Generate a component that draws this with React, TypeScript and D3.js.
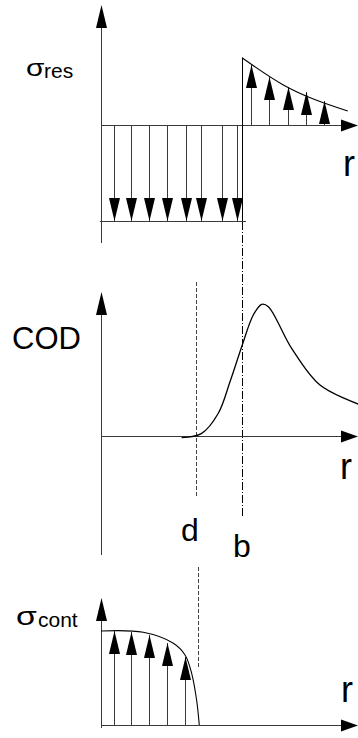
import React from "react";
import * as d3 from "d3";

// Radial positions are normalised by b (the edge of the residual-stress zone).
const bR = 1;
const dR = 0.68;

// Residual stress: uniform compression inside b, decaying tension outside.
const resDownR = [0.092, 0.213, 0.34, 0.468, 0.603, 0.709, 0.858, 0.965];
const resDownValue = [-1, -1, -1, -1, -1, -1, -1, -1];
const resUpR = [1.064, 1.191, 1.326, 1.454, 1.582];
const resUpValue = [0.625, 0.5, 0.396, 0.344, 0.25];
const resCurveR = [1.0, 1.29, 1.75];
const resCurveValue = [0.7, 0.42, 0.146];

// Crack opening displacement profile.
const codR = [0.572, 0.714, 0.832, 0.915, 1.002, 1.08, 1.14, 1.187, 1.352, 1.553, 1.825];
const codValue = [-0.013, 0.02, 0.172, 0.411, 0.689, 0.917, 0.998, 0.98, 0.664, 0.386, 0.242];

// Contact stress over the closed part of the crack.
const contR = [0.0, 0.3, 0.513, 0.596, 0.643, 0.678, 0.697];
const contValue = [1.0, 0.986, 0.869, 0.745, 0.55, 0.266, 0.0];
const contArrowR = [0.092, 0.213, 0.34, 0.468, 0.596];
const contArrowValue = [1.0, 0.989, 0.957, 0.872, 0.723];

const W = 358;
const H = 738;
const FONT = "Liberation Sans, Arial, Helvetica, sans-serif";
const AXIS = "#3a3a3a";
const INK = "#000";

const x = d3.scaleLinear().domain([0, 1]).range([101, 242]);
const yRes = d3.scaleLinear().domain([-1, 0]).range([221, 125]);
const yCod = d3.scaleLinear().domain([0, 1]).range([436, 304]);
const yCont = d3.scaleLinear().domain([0, 1]).range([725, 631]);

const x0 = x(0);
const xEnd = W;

function Head({ x: hx, y: hy, dir, len = 23, wid = 11 }: { x: number; y: number; dir: "up" | "down" | "right"; len?: number; wid?: number }) {
  let pts: [number, number][];
  if (dir === "up") pts = [[hx, hy], [hx - wid / 2, hy + len], [hx + wid / 2, hy + len]];
  else if (dir === "down") pts = [[hx, hy], [hx - wid / 2, hy - len], [hx + wid / 2, hy - len]];
  else pts = [[hx, hy], [hx - len, hy - wid / 2], [hx - len, hy + wid / 2]];
  return <polygon points={pts.map((p) => p.join(",")).join(" ")} fill={INK} />;
}

function StressArrow({ r, y0, y1 }: { r: number; y0: number; y1: number }) {
  const px = Math.round(x(r)) + 0.5;
  const dir = y1 < y0 ? "up" : "down";
  return (
    <g>
      <line x1={px} x2={px} y1={y0} y2={y1} stroke={AXIS} strokeWidth={1} />
      <Head x={px} y={y1} dir={dir} />
    </g>
  );
}

// Wide sigma followed by a subscript, as used in the stress axis titles.
function SigmaLabel({ x: lx, y: ly, size, sx, sub, subX, subSize }: { x: number; y: number; size: number; sx: number; sub: string; subX: number; subSize: number }) {
  return (
    <g>
      <text transform={`translate(${lx},${ly}) scale(${sx},1)`} fontSize={size}>σ</text>
      <text x={subX} y={ly + 1.5} fontSize={subSize}>{sub}</text>
    </g>
  );
}

export default function App() {
  const resLine = d3
    .line<number>()
    .x((_, i) => x(resCurveR[i]))
    .y((v) => yRes(v))
    .curve(d3.curveMonotoneX)(resCurveValue) as string;

  const codLine = d3
    .line<number>()
    .x((_, i) => x(codR[i]))
    .y((v) => yCod(v))
    .curve(d3.curveCatmullRom.alpha(0.5))(codValue) as string;

  const contLine = d3
    .line<number>()
    .x((_, i) => x(contR[i]))
    .y((v) => yCont(v))
    .curve(d3.curveCatmullRom.alpha(0.5))(contValue) as string;

  const ax = Math.round(x0) + 0.5;
  const bx = Math.round(x(bR)) + 0.5;
  const dx = Math.round(x(dR)) + 0.5;

  return (
    <svg width={W} height={H} style={{ position: "absolute", left: 0, top: 0, background: "#fff" }} fontFamily={FONT}>
      {/* residual stress panel */}
      <g>
        <line x1={ax} x2={ax} y1={20} y2={243} stroke={AXIS} />
        <Head x={ax} y={5} dir="up" />
        <line x1={x0} x2={xEnd - 10} y1={yRes(0) + 0.5} y2={yRes(0) + 0.5} stroke={AXIS} />
        <Head x={xEnd} y={yRes(0) + 0.5} dir="right" len={17} wid={12} />
        <line x1={x0 - 1} x2={x(bR) + 4} y1={yRes(-1) + 0.5} y2={yRes(-1) + 0.5} stroke={AXIS} />
        {resDownR.map((r, i) => (
          <StressArrow key={"d" + i} r={r} y0={yRes(0)} y1={yRes(resDownValue[i])} />
        ))}
        {resUpR.map((r, i) => (
          <StressArrow key={"u" + i} r={r} y0={yRes(0)} y1={yRes(resUpValue[i])} />
        ))}
        <line x1={bx} x2={bx} y1={yRes(-1)} y2={yRes(resCurveValue[0])} stroke={INK} />
        <path d={resLine} fill="none" stroke={INK} strokeWidth={1.1} />
        <SigmaLabel x={26} y={76} size={23} sx={1.3} sub="res" subX={44} subSize={21} />
        <text x={343} y={176} fontSize={36}>r</text>
      </g>

      {/* guide lines at b and d */}
      <line x1={bx} x2={bx} y1={yRes(-1) + 1} y2={518} stroke={INK} strokeWidth={1} strokeDasharray="8 2 1 2" />
      <line x1={dx - 1} x2={dx - 1} y1={282} y2={497} stroke="#444" strokeWidth={1} strokeDasharray="4 2" />
      <line x1={dx + 1} x2={dx + 1} y1={567} y2={668} stroke="#444" strokeWidth={1} strokeDasharray="4 2" />
      <text x={181} y={541} fontSize={32}>d</text>
      <text x={233} y={557} fontSize={32}>b</text>

      {/* COD panel */}
      <g>
        <line x1={ax} x2={ax} y1={305} y2={555} stroke={AXIS} />
        <Head x={ax} y={292} dir="up" />
        <line x1={x0} x2={xEnd - 10} y1={yCod(0) + 0.5} y2={yCod(0) + 0.5} stroke={AXIS} />
        <Head x={xEnd} y={yCod(0) + 0.5} dir="right" len={17} wid={12} />
        <path d={codLine} fill="none" stroke={INK} strokeWidth={1.3} />
        <text x={12} y={349} fontSize={31}>COD</text>
        <text x={340} y={479} fontSize={36}>r</text>
      </g>

      {/* contact stress panel */}
      <g>
        <line x1={ax} x2={ax} y1={610} y2={728} stroke={AXIS} />
        <Head x={ax} y={598} dir="up" />
        <line x1={x0} x2={xEnd - 10} y1={yCont(0) + 0.5} y2={yCont(0) + 0.5} stroke={AXIS} />
        <Head x={xEnd} y={yCont(0) + 0.5} dir="right" len={17} wid={12} />
        {contArrowR.map((r, i) => (
          <StressArrow key={"c" + i} r={r} y0={yCont(0)} y1={yCont(contArrowValue[i])} />
        ))}
        <path d={contLine} fill="none" stroke={INK} strokeWidth={1.1} />
        <SigmaLabel x={16} y={625} size={25} sx={1.35} sub="cont" subX={38} subSize={21} />
        <text x={341} y={702} fontSize={36}>r</text>
      </g>
    </svg>
  );
}
